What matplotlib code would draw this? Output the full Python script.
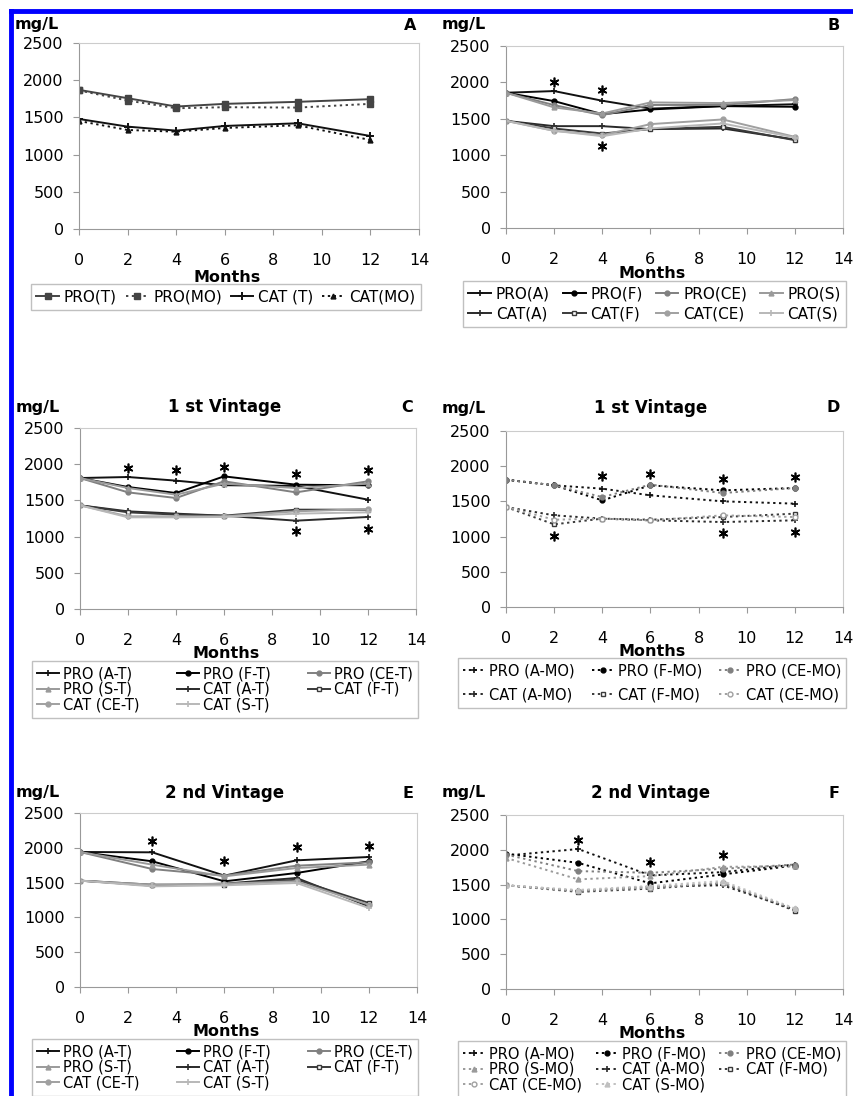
import matplotlib
matplotlib.use("Agg")
import matplotlib.pyplot as plt
from matplotlib.lines import Line2D

W, H = 854, 1096

# ---- data ----
months_1 = [0, 2, 4, 6, 9, 12]
months_2 = [0, 3, 6, 9, 12]

# panel A
a_pro_t = [1870, 1758, 1646, 1682, 1709, 1745]
a_pro_mo = [1862, 1727, 1623, 1637, 1632, 1682]
a_cat_t = [1479, 1376, 1322, 1385, 1421, 1250]
a_cat_mo = [1452, 1331, 1308, 1358, 1394, 1196]

# panel B
b_pro_a = [1858, 1881, 1748, 1640, 1675, 1700]
b_pro_f = [1858, 1743, 1564, 1628, 1674, 1665]
b_pro_ce = [1858, 1688, 1550, 1690, 1690, 1771]
b_pro_s = [1858, 1656, 1573, 1725, 1716, 1757]
b_cat_a = [1472, 1399, 1399, 1358, 1367, 1216]
b_cat_f = [1472, 1367, 1298, 1358, 1390, 1206]
b_cat_ce = [1472, 1335, 1275, 1427, 1491, 1252]
b_cat_s = [1472, 1335, 1261, 1367, 1436, 1243]
b_star_x = [2, 4, 4]
b_star_y = [2009, 1899, 1128]

# panel C (1st vintage, T)
c_pro_a = [1809, 1823, 1773, 1710, 1700, 1510]
c_pro_f = [1809, 1685, 1602, 1832, 1717, 1708]
c_pro_ce = [1809, 1611, 1533, 1764, 1611, 1764]
c_pro_s = [1809, 1671, 1579, 1731, 1671, 1731]
c_cat_a = [1432, 1349, 1317, 1289, 1220, 1271]
c_cat_f = [1432, 1335, 1303, 1289, 1372, 1372]
c_cat_ce = [1432, 1280, 1280, 1280, 1349, 1381]
c_cat_s = [1432, 1266, 1266, 1271, 1317, 1335]
c_star_x = [2, 4, 6, 9, 12, 9, 12]
c_star_y = [1948, 1925, 1961, 1869, 1925, 1073, 1105]

# panel D (1st vintage, MO)
d_pro_a = [1809, 1728, 1681, 1586, 1501, 1468]
d_pro_f = [1809, 1728, 1515, 1728, 1657, 1690]
d_pro_ce = [1809, 1728, 1562, 1738, 1619, 1690]
d_cat_a = [1420, 1302, 1255, 1231, 1207, 1231]
d_cat_f = [1420, 1174, 1255, 1240, 1278, 1326]
d_cat_ce = [1420, 1240, 1255, 1231, 1302, 1278]
d_star_x = [4, 6, 9, 12, 2, 9, 12]
d_star_y = [1856, 1894, 1823, 1847, 1004, 1051, 1065]

# panel E (2nd vintage, T)
e_pro_a = [1940, 1935, 1600, 1820, 1868]
e_pro_f = [1940, 1806, 1518, 1638, 1806]
e_pro_ce = [1940, 1695, 1600, 1743, 1791]
e_pro_s = [1940, 1758, 1590, 1710, 1758]
e_cat_a = [1528, 1456, 1485, 1566, 1159]
e_cat_f = [1528, 1470, 1470, 1542, 1207]
e_cat_ce = [1528, 1470, 1485, 1518, 1183]
e_cat_s = [1528, 1446, 1461, 1494, 1135]
e_star_x = [3, 6, 9, 12]
e_star_y = [2093, 1815, 2011, 2031]

# panel F (2nd vintage, MO)
f_pro_a = [1917, 2011, 1632, 1679, 1788]
f_pro_f = [1945, 1812, 1518, 1646, 1774]
f_pro_ce = [1931, 1694, 1670, 1727, 1788]
f_pro_s = [1883, 1575, 1622, 1755, 1765]
f_cat_a = [1490, 1409, 1471, 1490, 1139]
f_cat_f = [1490, 1395, 1442, 1518, 1124]
f_cat_ce = [1490, 1409, 1457, 1528, 1148]
f_cat_s = [1490, 1423, 1480, 1551, 1157]
f_star_x = [3, 6, 9]
f_star_y = [2144, 1822, 1931]

# ---- styles ----
DOT = (0, (1.2, 1.8))
ST = {
    "pro_a": dict(color="#111111", marker="+", ms=5, mew=1.2),
    "pro_f": dict(color="#000000", marker="o", ms=3.5),
    "pro_ce": dict(color="#808080", marker="o", ms=3.5),
    "pro_s": dict(color="#9a9a9a", marker="^", ms=3.5),
    "cat_a": dict(color="#2a2a2a", marker="+", ms=5, mew=1.2),
    "cat_f": dict(color="#3a3a3a", marker="s", ms=3.5, mfc="white"),
    "cat_ce": dict(color="#a0a0a0", marker="o", ms=3.5),
    "cat_s": dict(color="#b8b8b8", marker="+", ms=5, mew=1.2),
}


def rect(l, t, r, b):
    return [l / W, 1 - b / H, (r - l) / W, (b - t) / H]


def fx(x):
    return x / W


def fy(y):
    return 1 - y / H


fig = plt.figure(figsize=(W / 100, H / 100), dpi=100)
plt.rcParams["font.family"] = "DejaVu Sans"

# blue frame at top and left
fig.add_artist(Line2D([fx(11), 1], [fy(11), fy(11)], color="#0000ff", lw=3.5))
fig.add_artist(Line2D([fx(11), fx(11)], [fy(11), 0], color="#0000ff", lw=3.5))


def panel(box, x, series, stars, letter, title, mg_y, months_y, leg_box, ncol,
          leg_size, leg_space, order):
    l, t, r, b = box
    ax = fig.add_axes(rect(l, t, r, b))
    handles = []
    for label, y, style, ls in series:
        h, = ax.plot(x, y, linestyle=ls, lw=1.4, label=label, **style)
        handles.append(h)
    if stars:
        ax.plot(stars[0], stars[1], linestyle="none", marker=(6, 2, 0), ms=7,
                mec="black", mew=1.2)
    ax.set_xlim(0, 14)
    ax.set_ylim(0, 2500)
    ax.set_xticks(range(0, 15, 2))
    ax.set_yticks(range(0, 2501, 500))
    for s in ["left", "bottom"]:
        ax.spines[s].set_color("#999999")
    for s in ["top", "right"]:
        ax.spines[s].set_color("#cccccc")
    ax.tick_params(axis="x", colors="#999999", labelcolor="black", length=4,
                   labelsize=11.5, pad=13)
    ax.tick_params(axis="y", colors="#999999", labelcolor="black", length=4,
                   labelsize=11.5, pad=7)

    # texts around the plot
    fig.text(fx(l - 64), fy(mg_y), "mg/L", fontsize=11.5, fontweight="bold",
             va="center", ha="left")
    fig.text(fx(r - 3), fy(mg_y), letter, fontsize=11.5, fontweight="bold",
             va="center", ha="right")
    if title:
        fig.text(fx(l + (r - l) * 0.43), fy(mg_y), title, fontsize=12,
                 fontweight="bold", va="center", ha="center")
    fig.text(fx(l + (r - l) * 0.435), fy(months_y), "Months", fontsize=11.5,
             fontweight="bold", va="center", ha="center")

    # legend box below
    ll, lt, lr, lb = leg_box
    hs = [handles[i] for i in order]
    fig.legend(hs, [h.get_label() for h in hs], ncol=ncol, mode="expand",
               loc="upper left",
               bbox_to_anchor=(fx(ll), fy(lt), fx(lr) - fx(ll), 0.001),
               fontsize=leg_size, frameon=True, fancybox=False,
               edgecolor="#c0c0c0", framealpha=1, handlelength=1.5,
               handletextpad=0.3, labelspacing=leg_space, borderpad=0.35,
               borderaxespad=0, columnspacing=0.5)
    return ax


# panel A
panel((79, 43, 419, 229), months_1,
      [("PRO(T)", a_pro_t, dict(color="#444444", marker="s", ms=4), "-"),
       ("PRO(MO)", a_pro_mo, dict(color="#444444", marker="s", ms=4), DOT),
       ("CAT (T)", a_cat_t, dict(color="#111111", marker="+", ms=6, mew=1.4), "-"),
       ("CAT(MO)", a_cat_mo, dict(color="#111111", marker="^", ms=3.5), DOT)],
      None, "A", None, 25, 277, (31, 285, 421, 320), 4, 11, 0.3, [0, 1, 2, 3])

# panel B
panel((506, 46, 843, 228), months_1,
      [("PRO(A)", b_pro_a, ST["pro_a"], "-"),
       ("PRO(F)", b_pro_f, ST["pro_f"], "-"),
       ("PRO(CE)", b_pro_ce, ST["pro_ce"], "-"),
       ("PRO(S)", b_pro_s, ST["pro_s"], "-"),
       ("CAT(A)", b_cat_a, ST["cat_a"], "-"),
       ("CAT(F)", b_cat_f, ST["cat_f"], "-"),
       ("CAT(CE)", b_cat_ce, ST["cat_ce"], "-"),
       ("CAT(S)", b_cat_s, ST["cat_s"], "-")],
      (b_star_x, b_star_y), "B", None, 25, 274, (463, 282, 846, 330), 4, 11,
      0.35, [0, 4, 1, 5, 2, 6, 3, 7])

# panel C
panel((80, 428, 416, 609), months_1,
      [("PRO (A-T)", c_pro_a, ST["pro_a"], "-"),
       ("PRO (F-T)", c_pro_f, ST["pro_f"], "-"),
       ("PRO (CE-T)", c_pro_ce, ST["pro_ce"], "-"),
       ("PRO (S-T)", c_pro_s, ST["pro_s"], "-"),
       ("CAT (A-T)", c_cat_a, ST["cat_a"], "-"),
       ("CAT (F-T)", c_cat_f, ST["cat_f"], "-"),
       ("CAT (CE-T)", c_cat_ce, ST["cat_ce"], "-"),
       ("CAT (S-T)", c_cat_s, ST["cat_s"], "-")],
      (c_star_x, c_star_y), "C", "1 st Vintage", 407, 654,
      (32, 662, 418, 713), 3, 10.5, 0.05, [0, 3, 6, 1, 4, 7, 2, 5])

# panel D
panel((506, 431, 843, 607), months_1,
      [("PRO (A-MO)", d_pro_a, ST["pro_a"], DOT),
       ("PRO (F-MO)", d_pro_f, ST["pro_f"], DOT),
       ("PRO (CE-MO)", d_pro_ce, ST["pro_ce"], DOT),
       ("CAT (A-MO)", d_cat_a, ST["cat_a"], DOT),
       ("CAT (F-MO)", d_cat_f, ST["cat_f"], DOT),
       ("CAT (CE-MO)", d_cat_ce, dict(color="#a0a0a0", marker="o", ms=3.5,
                                      mfc="white"), DOT)],
      (d_star_x, d_star_y), "D", "1 st Vintage", 408, 651,
      (458, 659, 846, 713), 3, 10.5, 0.65, [0, 3, 1, 4, 2, 5])

# panel E
panel((80, 813, 417, 987), months_2,
      [("PRO (A-T)", e_pro_a, ST["pro_a"], "-"),
       ("PRO (F-T)", e_pro_f, ST["pro_f"], "-"),
       ("PRO (CE-T)", e_pro_ce, ST["pro_ce"], "-"),
       ("PRO (S-T)", e_pro_s, ST["pro_s"], "-"),
       ("CAT (A-T)", e_cat_a, ST["cat_a"], "-"),
       ("CAT (F-T)", e_cat_f, ST["cat_f"], "-"),
       ("CAT (CE-T)", e_cat_ce, ST["cat_ce"], "-"),
       ("CAT (S-T)", e_cat_s, ST["cat_s"], "-")],
      (e_star_x, e_star_y), "E", "2 nd Vintage", 793, 1031,
      (32, 1040, 418, 1096), 3, 10.5, 0.05, [0, 3, 6, 1, 4, 7, 2, 5])

# panel F
panel((506, 815, 843, 989), months_2,
      [("PRO (A-MO)", f_pro_a, ST["pro_a"], DOT),
       ("PRO (F-MO)", f_pro_f, ST["pro_f"], DOT),
       ("PRO (CE-MO)", f_pro_ce, ST["pro_ce"], DOT),
       ("PRO (S-MO)", f_pro_s, ST["pro_s"], DOT),
       ("CAT (A-MO)", f_cat_a, ST["cat_a"], DOT),
       ("CAT (F-MO)", f_cat_f, ST["cat_f"], DOT),
       ("CAT (CE-MO)", f_cat_ce, dict(color="#a0a0a0", marker="o", ms=3.5,
                                      mfc="white"), DOT),
       ("CAT (S-MO)", f_cat_s, dict(color="#c0c0c0", marker="^", ms=3.5), DOT)],
      (f_star_x, f_star_y), "F", "2 nd Vintage", 793, 1034,
      (458, 1042, 846, 1096), 3, 10.5, 0.05, [0, 3, 6, 1, 4, 7, 2, 5])

fig.savefig("out.png", dpi=100)
